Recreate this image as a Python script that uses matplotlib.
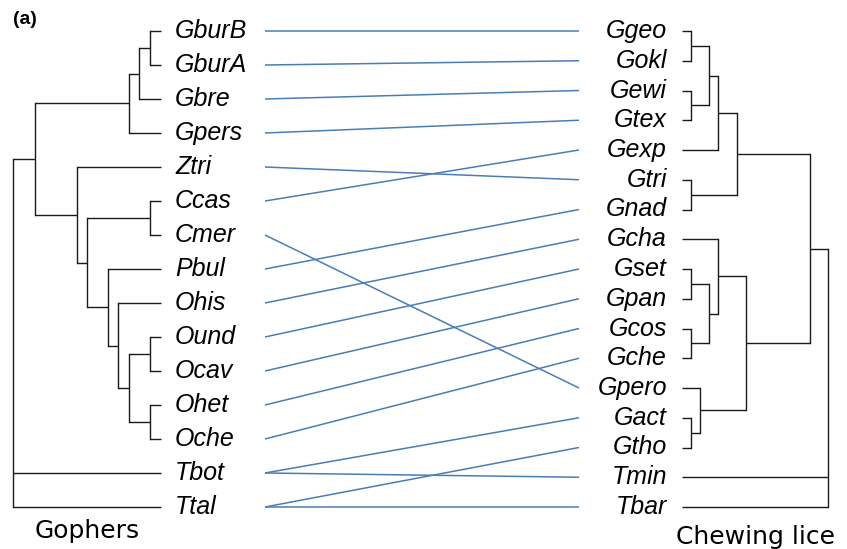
import matplotlib
matplotlib.use("Agg")
import matplotlib.pyplot as plt

# Gopher tree: internal nodes are (height above tips, [children]); tips are names.
gopher_tree = (148, [
    (126, [
        (32, [(22, [(11, ["GburB", "GburA"]), "Gbre"]), "Gpers"]),
        (84, ["Ztri",
              (74, [(11, ["Ccas", "Cmer"]),
                    (53, ["Pbul",
                          (43, ["Ohis",
                                (32, [(11, ["Ound", "Ocav"]),
                                      (11, ["Ohet", "Oche"])])])])])]),
    ]),
    "Tbot", "Ttal",
])

# Chewing louse tree, same encoding.
louse_tree = (146, [
    (128, [
        (55, [(36, [(27, [(9, ["Ggeo", "Gokl"]), (9, ["Gewi", "Gtex"])]), "Gexp"]),
              (9, ["Gtri", "Gnad"])]),
        (64, [(36, ["Gcha", (27, [(9, ["Gset", "Gpan"]), (9, ["Gcos", "Gche"])])]),
              (18, ["Gpero", (9, ["Gact", "Gtho"])])]),
    ]),
    "Tmin", "Tbar",
])

# Host-parasite associations.
host_names = ["GburB", "GburA", "Gbre", "Gpers", "Ztri", "Ccas", "Cmer", "Pbul",
              "Ohis", "Ound", "Ocav", "Ohet", "Oche", "Tbot", "Tbot", "Ttal", "Ttal"]
louse_names = ["Ggeo", "Gokl", "Gewi", "Gtex", "Gtri", "Gexp", "Gpero", "Gnad",
               "Gcha", "Gset", "Gpan", "Gcos", "Gche", "Gact", "Tmin", "Gtho", "Tbar"]

W, H = 847, 549
fig = plt.figure(figsize=(W / 100, H / 100), dpi=100)
top_px, bot_px = 31, 507
ax = fig.add_axes([0, 1 - bot_px / H, 1, (bot_px - top_px) / H])
ax.set_xlim(0, W)
ax.set_ylim(1, 0)
ax.axis("off")

TREE_COLOR = "#1a1a1a"
LINK_COLOR = "#4a7db4"
label_font = dict(family=["Liberation Sans", "DejaVu Sans"], style="italic", size=18)


def tips_of(node):
    if isinstance(node, str):
        return [node]
    out = []
    for c in node[1]:
        out.extend(tips_of(c))
    return out


def draw_tree(tree, tip_x, direction):
    """direction=-1 grows leftwards from the tips, +1 rightwards."""
    tips = tips_of(tree)
    n = len(tips)
    ypos = {name: i / (n - 1) for i, name in enumerate(tips)}

    def rec(node):
        if isinstance(node, str):
            return tip_x, ypos[node]
        h, children = node
        x = tip_x + direction * h
        ys = []
        for c in children:
            cx, cy = rec(c)
            ax.plot([x, cx], [cy, cy], color=TREE_COLOR, lw=1.0,
                    solid_capstyle="butt", clip_on=False)
            ys.append(cy)
        ax.plot([x, x], [min(ys), max(ys)], color=TREE_COLOR, lw=1.0,
                solid_capstyle="projecting", clip_on=False)
        return x, (ys[0] + ys[-1]) / 2

    rec(tree)
    return ypos


gy = draw_tree(gopher_tree, 161, -1)
ly = draw_tree(louse_tree, 682, +1)

for name, y in gy.items():
    ax.text(175, y, name, ha="left", va="center", **label_font)
for name, y in ly.items():
    ax.text(667, y, name, ha="right", va="center", **label_font)

for h, l in zip(host_names, louse_names):
    ax.plot([265, 579], [gy[h], ly[l]], color=LINK_COLOR, lw=1.1,
            solid_capstyle="butt", clip_on=False)

fig.text(87 / W, 1 - 531 / H, "Gophers", ha="center", va="center",
         family="DejaVu Sans", size=18)
fig.text(755 / W, 1 - 537 / H, "Chewing lice", ha="center", va="center",
         family="DejaVu Sans", size=18)
fig.text(13 / W, 1 - 20 / H, "(a)", ha="left", va="center",
         family=["Liberation Sans", "DejaVu Sans"], weight="bold", size=14)

fig.savefig("out.png", dpi=100, facecolor="white")
